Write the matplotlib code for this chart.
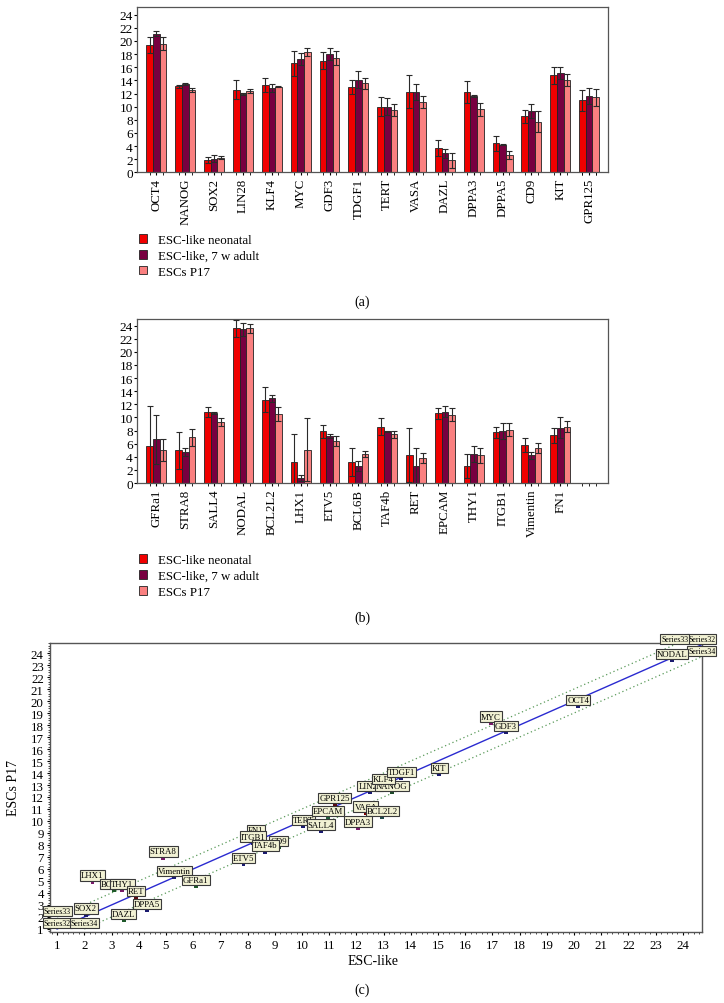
import numpy as np
import matplotlib
matplotlib.use('Agg')
import matplotlib.pyplot as plt
from matplotlib.patches import Patch
from matplotlib.ticker import MultipleLocator, FixedLocator

plt.rcParams['font.family'] = ['Liberation Serif', 'DejaVu Serif']

#panel (a) data
genes_a = ['OCT4', 'NANOG', 'SOX2', 'LIN28', 'KLF4', 'MYC', 'GDF3', 'TDGF1',
           'TERT', 'VASA', 'DAZL', 'DPPA3', 'DPPA5', 'CD9', 'KIT', 'GPR125']
neo_a = [19.4, 13.1, 1.9, 12.6, 13.3, 16.6, 17.0, 13.0, 10.0, 12.3, 3.65, 12.2, 4.4, 8.5, 14.8, 11.0]
neo_a_err = [1.2, 0.2, 0.5, 1.4, 1.0, 1.9, 1.3, 1.0, 1.4, 2.5, 1.2, 1.7, 1.1, 1.0, 1.3, 1.6]
adu_a = [21.1, 13.45, 2.1, 11.9, 12.8, 17.2, 18.0, 14.1, 10.0, 12.2, 2.9, 11.6, 4.2, 9.3, 15.1, 11.6]
adu_a_err = [0.4, 0.1, 0.6, 0.2, 0.6, 0.9, 0.9, 1.3, 1.3, 1.2, 0.7, 0.1, 0.1, 1.1, 0.9, 1.2]
p17_a = [19.6, 12.5, 2.2, 12.4, 13.05, 18.3, 17.4, 13.55, 9.5, 10.7, 1.8, 9.6, 2.6, 7.7, 14.1, 11.4]
p17_a_err = [1.0, 0.3, 0.25, 0.35, 0.1, 0.6, 1.0, 0.8, 0.9, 0.9, 1.2, 1.0, 0.65, 1.6, 0.9, 1.3]

#panel (b) data
genes_b = ['GFRa1', 'STRA8', 'SALL4', 'NODAL', 'BCL2L2', 'LHX1', 'ETV5', 'BCL6B',
           'TAF4b', 'RET', 'EPCAM', 'THY1', 'ITGB1', 'Vimentin', 'FN1']
neo_b = [5.6, 5.0, 10.8, 23.6, 12.7, 3.2, 7.9, 3.2, 8.6, 4.3, 10.6, 2.55, 7.75, 5.75, 7.3]
neo_b_err = [6.1, 2.8, 0.8, 1.3, 1.9, 4.2, 1.0, 2.1, 1.3, 4.1, 0.9, 1.8, 0.85, 1.05, 1.15]
adu_b = [6.65, 4.7, 10.65, 23.4, 12.9, 0.75, 7.15, 2.6, 7.9, 2.6, 10.9, 4.4, 7.9, 4.2, 8.45]
adu_b_err = [3.75, 0.6, 0.1, 1.0, 0.5, 0.5, 0.35, 0.75, 0.1, 2.7, 0.85, 1.2, 1.2, 0.6, 1.55]
p17_b = [5.0, 7.0, 9.3, 23.6, 10.5, 5.1, 6.4, 4.4, 7.4, 3.8, 10.4, 4.2, 8.15, 5.35, 8.55]
p17_b_err = [1.7, 1.3, 0.6, 0.7, 1.1, 4.8, 0.75, 0.45, 0.5, 0.75, 1.0, 1.1, 0.95, 0.7, 0.85]

series_names = ['ESC-like neonatal', 'ESC-like, 7 w adult', 'ESCs P17']
series_colors = ['#f00000', '#780040', '#fa8080']

#panel (c) data: ESC-like vs ESCs P17
c_genes = ['LHX1', 'BCL6B', 'THY1', 'RET', 'DPPA5', 'DAZL', 'SOX2', 'STRA8', 'Vimentin',
           'GFRa1', 'ETV5', 'FN1', 'ITGB1', 'CD9', 'TAF4b', 'TERT', 'SALL4', 'EPCAM',
           'GPR125', 'VASA', 'BCL2L2', 'DPPA3', 'LIN28', 'NANOG', 'KLF4', 'TDGF1', 'KIT',
           'MYC', 'GDF3', 'OCT4', 'NODAL']
c_x = [2.3, 3.1, 3.4, 3.9, 4.3, 3.45, 2.05, 4.9, 5.3, 6.1, 7.85, 8.3, 8.2, 9.15, 8.65,
       10.05, 10.7, 10.95, 11.2, 12.35, 12.95, 12.05, 12.5, 13.3, 13.0, 13.65, 15.05,
       16.95, 17.5, 20.15, 23.6]
c_y = [4.95, 4.25, 4.25, 3.65, 2.6, 1.75, 2.2, 6.95, 5.35, 4.6, 6.4, 8.75, 8.2, 7.85, 7.45,
       9.55, 9.2, 10.35, 11.4, 10.7, 10.35, 9.45, 12.4, 12.4, 13.0, 13.55, 13.9,
       18.2, 17.4, 19.6, 23.45]
c_colors = ['#7a1a6a', '#1e5a2a', '#7a1a6a', '#5a0a10', '#1a1a70', '#1e5a2a', '#1a1a70',
            '#7a1a6a', '#1a1a70', '#1e5a2a', '#1a1a70', '#1a1a70', '#1a1a70', '#1e5a2a',
            '#1a1a70', '#1a1a70', '#1a1a70', '#1e5a3a', '#5a0a10', '#800000', '#1e4a4a',
            '#7a1a6a', '#1a1a70', '#1e4a2a', '#1a1a70', '#1a1a70', '#1a1a70', '#7a1a6a',
            '#1a1a70', '#1a1a70', '#1a1a70']

#reference lines (start, end)
line_mid_x = [1, 24.7]
line_mid_y = [1, 24.7]
line_up_x = [1, 23.7]
line_up_y = [2, 24.7]
line_lo_x = [2, 24.7]
line_lo_y = [1, 23.7]

fig = plt.figure(figsize=(7.24, 10.04), dpi=100)

def bar_panel(ax, genes, vals, errs):
    n = len(genes)
    x = np.arange(n)
    w = 0.23
    for i in range(3):
        ax.bar(x + (i - 1) * w, vals[i], width=w, color=series_colors[i],
               edgecolor='#222222', linewidth=0.6, zorder=2)
        ax.errorbar(x + (i - 1) * w, vals[i], yerr=errs[i], fmt='none',
                    ecolor='#2a2a2a', elinewidth=0.8, capsize=2.3, capthick=0.8, zorder=3)
    ax.set_xlim(-0.68, 15.66)
    ax.set_xticks(x)
    ax.set_xticklabels(genes, rotation=90, fontsize=9.3)
    ax.xaxis.set_minor_locator(FixedLocator(np.concatenate([x - w, x + w, [15 - w, 15, 15 + w]])))
    ax.set_yticks(np.arange(0, 25, 2))
    ax.tick_params(axis='y', labelsize=9.5, length=2, pad=1)
    ax.tick_params(axis='x', which='major', length=2, pad=2)
    ax.tick_params(axis='x', which='minor', length=2)
    for s in ax.spines.values():
        s.set_color('#555555')
        s.set_linewidth(0.9)

ax1 = fig.add_axes([0.189, 0.8274, 0.651, 0.1648])
bar_panel(ax1, genes_a, [neo_a, adu_a, p17_a], [neo_a_err, adu_a_err, p17_a_err])
ax1.set_ylim(0, 25.2)

ax2 = fig.add_axes([0.189, 0.5179, 0.651, 0.1634])
bar_panel(ax2, genes_b, [neo_b, adu_b, p17_b], [neo_b_err, adu_b_err, p17_b_err])
ax2.set_ylim(0, 25.0)

handles = [Patch(facecolor=c, edgecolor='#222222', linewidth=0.6) for c in series_colors]
for top in [0.766, 0.447]:
    fig.legend(handles, series_names, loc='upper left', bbox_to_anchor=(0.192, top),
               frameon=False, fontsize=9.3, handlelength=0.65, handleheight=0.65,
               handletextpad=0.8, labelspacing=0.3, borderpad=0, borderaxespad=0)

fig.text(0.5, 0.699, '(a)', ha='center', va='center', fontsize=10)
fig.text(0.5, 0.3845, '(b)', ha='center', va='center', fontsize=10)

#scatter panel
ax3 = fig.add_axes([0.0691, 0.0704, 0.900, 0.2882])
ax3.plot(line_mid_x, line_mid_y, color='#2a2ad0', lw=1.0, zorder=2)
ax3.plot(line_up_x, line_up_y, color='#5a9a5a', lw=0.9, ls=(0, (1, 2.2)), zorder=2)
ax3.plot(line_lo_x, line_lo_y, color='#5a9a5a', lw=0.9, ls=(0, (1, 2.2)), zorder=2)

box = dict(boxstyle='square,pad=0.12', facecolor='#f2f2d4', edgecolor='#3a3a3a', linewidth=0.8)
for name, xs, ys in [('Series32', line_mid_x, line_mid_y),
                     ('Series33', line_up_x, line_up_y),
                     ('Series34', line_lo_x, line_lo_y)]:
    for xx, yy in zip(xs, ys):
        ax3.annotate(name, (xx, yy), xytext=(0, 1.5), textcoords='offset points',
                     ha='center', va='bottom', fontsize=5.7, bbox=box,
                     annotation_clip=False, zorder=4)

ax3.scatter(c_x, c_y, marker='s', s=8, c=c_colors, zorder=3, linewidths=0)
for g, xx, yy in zip(c_genes, c_x, c_y):
    ax3.annotate(g, (xx, yy), xytext=(0, 1.5), textcoords='offset points',
                 ha='center', va='bottom', fontsize=6.3, bbox=box, zorder=4)

ax3.set_xlim(0.74, 24.69)
ax3.set_ylim(0.72, 24.84)
ax3.set_xticks(np.arange(1, 25))
ax3.set_yticks(np.arange(1, 25))
ax3.xaxis.set_minor_locator(MultipleLocator(0.2))
ax3.yaxis.set_minor_locator(MultipleLocator(0.2))
ax3.tick_params(which='major', labelsize=9.3, length=2.5, pad=2)
ax3.tick_params(which='minor', length=1.5, width=0.5)
for s in ax3.spines.values():
    s.set_color('#555555')
    s.set_linewidth(1.0)

fig.text(0.515, 0.042, 'ESC-like', ha='center', va='center', fontsize=10)
fig.text(0.018, 0.215, 'ESCs P17', ha='center', va='center', rotation=90, fontsize=10)
fig.text(0.5, 0.0139, '(c)', ha='center', va='center', fontsize=10)

fig.savefig('out.png', dpi=100)
